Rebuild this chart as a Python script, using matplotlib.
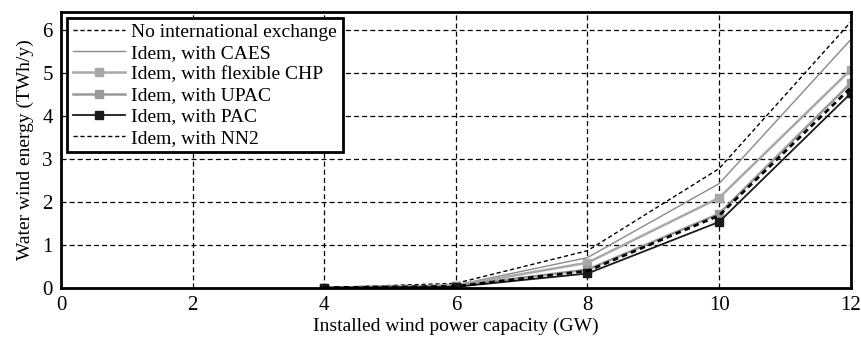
import matplotlib
matplotlib.use("Agg")
import matplotlib.pyplot as plt

# Data
capacity_gw = [4, 6, 8, 10, 12]
no_exchange = [0.0, 0.10, 0.86, 2.77, 6.18]
with_caes = [0.0, 0.06, 0.70, 2.42, 5.77]
with_flex_chp = [0.0, 0.05, 0.58, 2.09, 5.07]
with_upac = [0.0, 0.04, 0.42, 1.72, 4.76]
with_pac = [0.0, 0.02, 0.33, 1.53, 4.52]
with_nn2 = [0.0, 0.03, 0.39, 1.68, 4.65]

x_ticks = [0, 2, 4, 6, 8, 10, 12]
y_ticks = [0, 1, 2, 3, 4, 5, 6]

plt.rcParams['font.family'] = ['Liberation Serif', 'DejaVu Serif']

fig, ax = plt.subplots(figsize=(8.61, 3.47), dpi=100)
fig.subplots_adjust(left=0.071, right=0.988, top=0.966, bottom=0.171)

ax.plot(capacity_gw, no_exchange, color='black', linestyle=(0, (3, 2)), linewidth=1.0,
        label='No international exchange')
ax.plot(capacity_gw, with_caes, color='#8a8a8a', linewidth=1.0, label='Idem, with CAES')
ax.plot(capacity_gw, with_flex_chp, color='#a8a8a8', linewidth=1.8, marker='s', markersize=6,
        label='Idem, with flexible CHP')
ax.plot(capacity_gw, with_upac, color='#9a9a9a', linewidth=1.8, marker='s', markersize=6,
        label='Idem, with UPAC')
ax.plot(capacity_gw, with_pac, color='#1a1a1a', linewidth=1.3, marker='s', markersize=6,
        label='Idem, with PAC')
ax.plot(capacity_gw, with_nn2, color='black', linestyle=(0, (2, 1.5)), linewidth=2.0,
        label='Idem, with NN2')

ax.set_xlim(0, 12)
ax.set_ylim(0, 6.42)
ax.set_xticks(x_ticks)
ax.set_yticks(y_ticks)
ax.tick_params(length=0, labelsize=15, pad=6)
ax.grid(True, color='black', linestyle=(0, (4, 2.5)), linewidth=0.9)
ax.set_axisbelow(True)
for s in ax.spines.values():
    s.set_linewidth(2.0)

ax.set_xlabel('Installed wind power capacity (GW)', fontsize=14, labelpad=2)
ax.set_ylabel('Water wind energy (TWh/y)', fontsize=14, labelpad=6)

leg = ax.legend(loc='upper left', fontsize=14, frameon=True, fancybox=False,
                borderpad=0.3, labelspacing=0.18, handlelength=2.7, handletextpad=0.3,
                borderaxespad=0.3)
leg.get_frame().set_edgecolor('black')
leg.get_frame().set_linewidth(2.0)
leg.get_frame().set_alpha(1)
# legend handle for NN2 is thin in the reference
leg.get_lines()[5].set_linewidth(1.0)
leg.get_lines()[5].set_linestyle((0, (3, 2)))

fig.savefig('out.png', dpi=100)
